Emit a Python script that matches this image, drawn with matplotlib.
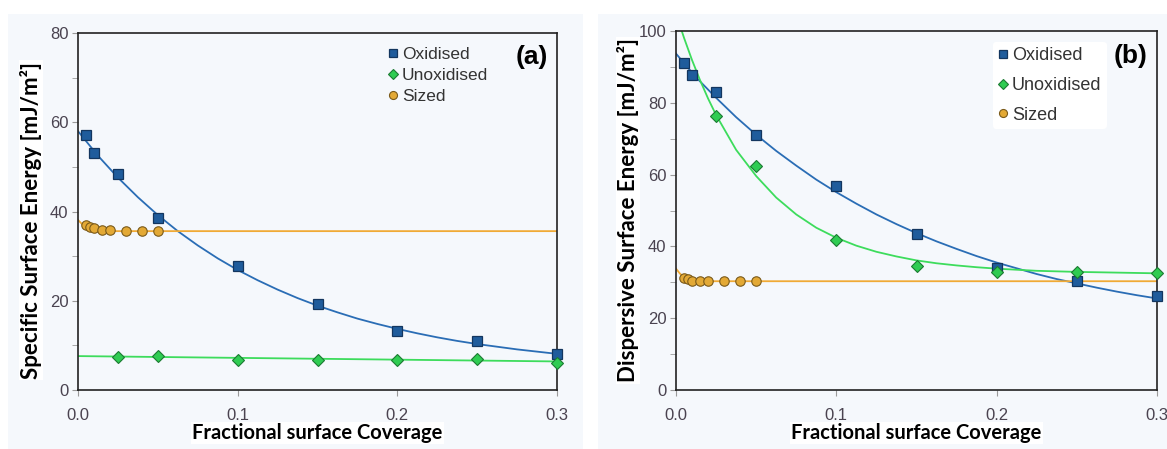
import matplotlib.pyplot as plt
from matplotlib.patches import Rectangle
from matplotlib.ticker import MultipleLocator

# ---- data ----
x_ox = [0.005, 0.01, 0.025, 0.05, 0.1, 0.15, 0.2, 0.25, 0.3]
x_un = [0.025, 0.05, 0.1, 0.15, 0.2, 0.25, 0.3]
x_sz = [0.005, 0.0075, 0.01, 0.015, 0.02, 0.03, 0.04, 0.05]

# (a) specific surface energy
a_ox = [57.2, 53.2, 48.3, 38.5, 27.8, 19.3, 13.2, 10.9, 8.0]
a_un = [7.4, 7.6, 6.8, 6.8, 6.7, 7.0, 6.1]
a_sz = [37.0, 36.5, 36.2, 35.9, 35.9, 35.7, 35.7, 35.7]

# (b) dispersive surface energy
b_ox = [91.2, 87.8, 83.1, 71.0, 56.8, 43.5, 34.0, 30.3, 26.2]
b_un = [76.4, 62.3, 41.9, 34.5, 32.9, 32.9, 32.7]
b_sz = [31.3, 30.8, 30.5, 30.3, 30.3, 30.3, 30.3, 30.3]

# trend lines as drawn in the reference
fit_x = [0, 0.0125, 0.025, 0.0375, 0.05, 0.0625, 0.075, 0.0875, 0.1, 0.1125, 0.125,
         0.1375, 0.15, 0.1625, 0.175, 0.1875, 0.2, 0.2125, 0.225, 0.2375, 0.25,
         0.2625, 0.275, 0.2875, 0.3]
a_ox_fit = [58.0, 52.5, 47.6, 43.2, 39.2, 35.6, 32.4, 29.5, 26.9, 24.6, 22.5,
            20.6, 18.9, 17.4, 16.0, 14.8, 13.7, 12.7, 11.8, 11.0, 10.3,
            9.7, 9.1, 8.6, 8.1]
b_ox_fit = [93.7, 87.1, 81.4, 76.0, 71.1, 66.6, 62.5, 58.6, 55.1, 51.9, 48.9,
            46.2, 43.7, 41.4, 39.3, 37.3, 35.5, 33.9, 32.3, 30.9, 29.7,
            28.5, 27.4, 26.4, 25.5]
a_un_line_x = [0, 0.3]
a_un_line = [7.6, 6.4]
b_un_fit_x = [0, 0.005, 0.01, 0.015, 0.02, 0.025, 0.0375, 0.05, 0.0625, 0.075, 0.0875,
              0.1, 0.1125, 0.125, 0.1375, 0.15, 0.1625, 0.175, 0.1875, 0.2, 0.225,
              0.25, 0.275, 0.3]
b_un_fit = [104.9, 98.1, 91.9, 86.3, 81.2, 76.6, 66.9, 59.6, 53.6, 48.9, 45.2,
            42.4, 40.2, 38.5, 37.2, 36.1, 35.3, 34.7, 34.2, 33.8, 33.2,
            32.9, 32.7, 32.5]
sz_fit_x = [0, 0.0025, 0.005, 0.0075, 0.01, 0.0125, 0.015, 0.02, 0.3]
a_sz_fit = [38.1, 37.2, 36.5, 36.1, 35.85, 35.7, 35.65, 35.6, 35.6]
b_sz_fit = [33.8, 32.4, 31.5, 30.9, 30.6, 30.45, 30.35, 30.3, 30.3]

# ---- styles ----
c_ox, e_ox, l_ox = "#1f5c9c", "#13365f", "#2a6db5"
c_un, e_un, l_un = "#2fcc52", "#1b7a32", "#3ddc5c"
c_sz, e_sz, l_sz = "#e3a935", "#7a5a1a", "#f0aa35"
tick_col = "#4a4350"
bg = "#f5f8fc"
lab_font = ["Liberation Sans Narrow", "Lato", "DejaVu Sans"]

fig = plt.figure(figsize=(11.67, 4.49), dpi=100)
fig.patch.set_facecolor("white")
W, H = 1167, 449
for x0, x1 in [(8, 583), (598, 1167)]:
    fig.patches.append(Rectangle((x0 / W, 0), (x1 - x0) / W, (H - 14) / H,
                                 transform=fig.transFigure, facecolor=bg,
                                 edgecolor="none", zorder=-10))

ax_a = fig.add_axes([78 / W, 1 - 390 / H, 479 / W, 357 / H])
ax_b = fig.add_axes([676 / W, 1 - 390 / H, 481 / W, 359 / H])


def style(ax, ymax, ylabel, tag, legsize, legspace, leg_anchor, ylab_xy):
    ax.set_facecolor(bg)
    ax.set_xlim(0, 0.3)
    ax.set_ylim(0, ymax)
    ax.xaxis.set_major_locator(MultipleLocator(0.1))
    ax.yaxis.set_major_locator(MultipleLocator(20))
    ax.yaxis.set_minor_locator(MultipleLocator(10))
    ax.xaxis.set_major_formatter(plt.FormatStrFormatter("%.1f"))
    ax.tick_params(axis="both", which="both", direction="out", length=4,
                   color="#9a9a9a", labelcolor=tick_col, labelsize=12,
                   labelfontfamily="Liberation Sans")
    ax.tick_params(axis="x", pad=9)
    ax.tick_params(axis="y", pad=3)
    for s in ax.spines.values():
        s.set_color("#222222")
        s.set_linewidth(1.2)
    ax.set_xlabel("Fractional surface Coverage", fontsize=14.5, fontweight="bold",
                  family=lab_font, labelpad=0,
                  bbox=dict(facecolor="white", edgecolor="none", pad=1))
    ax.set_ylabel(ylabel, fontsize=16, fontweight="bold", family=lab_font,
                  bbox=dict(facecolor="white", edgecolor="none", pad=1))
    ax.yaxis.set_label_coords(*ylab_xy)
    ax.text(0.981, 0.965, tag, transform=ax.transAxes, ha="right", va="top",
            fontsize=19, fontweight="bold", family="Liberation Sans")
    leg = ax.legend(loc="upper left", bbox_to_anchor=leg_anchor, frameon=True,
                    handlelength=0.5, handletextpad=0.25, markerscale=0.85,
                    labelspacing=legspace, borderpad=0.3,
                    prop={"family": "Liberation Sans", "size": legsize})
    leg.get_frame().set_facecolor("white" if tag == "(b)" else bg)
    leg.get_frame().set_edgecolor("none")
    leg.get_frame().set_alpha(1)
    for t in leg.get_texts():
        t.set_color("#333333")


for ax, ox, un, sz, ox_fit, sz_fit in [(ax_a, a_ox, a_un, a_sz, a_ox_fit, a_sz_fit),
                                       (ax_b, b_ox, b_un, b_sz, b_ox_fit, b_sz_fit)]:
    ax.plot(fit_x, ox_fit, color=l_ox, lw=1.3, zorder=2)
    ax.plot(sz_fit_x, sz_fit, color=l_sz, lw=1.3, zorder=2)
    if ax is ax_a:
        ax.plot(a_un_line_x, a_un_line, color=l_un, lw=1.3, zorder=2)
    else:
        ax.plot(b_un_fit_x, b_un_fit, color=l_un, lw=1.3, zorder=2)
    ax.plot(x_ox, ox, ls="none", marker="s", ms=6.8, mfc=c_ox, mec=e_ox, mew=0.9,
            label="Oxidised", zorder=3, clip_on=False)
    ax.plot(x_un, un, ls="none", marker="D", ms=6.2, mfc=c_un, mec=e_un, mew=0.8,
            label="Unoxidised", zorder=3, clip_on=False)
    ax.plot(x_sz, sz, ls="none", marker="o", ms=6.8, mfc=c_sz, mec=e_sz, mew=0.8,
            label="Sized", zorder=3, clip_on=False)

style(ax_a, 80, "Specific Surface Energy [mJ/m²]", "(a)", 12.5, 0.35, (0.62, 1.0), (-0.075, 0.476))
style(ax_b, 100, "Dispersive Surface Energy [mJ/m²]", "(b)", 13, 0.7, (0.64, 0.995), (-0.077, 0.5))

fig.savefig("out.png", dpi=100)
